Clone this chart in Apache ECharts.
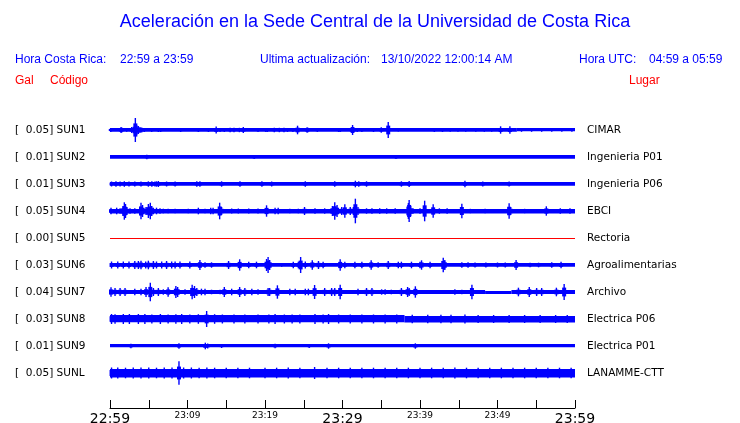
<!DOCTYPE html>
<html>
<head>
<meta charset="utf-8">
<script src="https://cdn.jsdelivr.net/npm/echarts@6/dist/echarts.min.js"></script>
<style>html,body{margin:0;padding:0;background:#fff}#c{width:740px;height:423px}</style>
</head>
<body>
<div id="c"></div>
<script>
// ---------------- DATA ----------------
const timeTickLabels = ['22:59', '23:09', '23:19', '23:29', '23:39', '23:49', '23:59'];
const stations = ['SUN1', 'SUN2', 'SUN3', 'SUN4', 'SUN5', 'SUN6', 'SUN7', 'SUN8', 'SUN9', 'SUNL'];
const peakGal = ['0.05', '0.01', '0.01', '0.05', '0.00', '0.03', '0.04', '0.03', '0.01', '0.05'];
const places = ['CIMAR', 'Ingenieria P01', 'Ingenieria P06', 'EBCI', 'Rectoria', 'Agroalimentarias', 'Archivo', 'Electrica P06', 'Electrica P01', 'LANAMME-CTT'];

// background noise level: [startMinute, endMinute, relative amplitude]
const sun1Base = [[0, 52.5, 1.9], [52.5, 60, 1.6]];
const sun2Base = [[0, 60, 1.9]];
const sun3Base = [[0, 60, 1.9]];
const sun4Base = [[0, 60, 2.3]];
const sun5Base = [[0, 60, 0]];
const sun6Base = [[0, 60, 1.9]];
const sun7Base = [[0, 48.4, 2.0], [48.4, 51.8, 1.5], [51.8, 60, 2.0]];
const sun8Base = [[0, 38, 3.6], [38, 60, 3.3]];
const sun9Base = [[0, 60, 1.6]];
const sunlBase = [[0, 60, 4.2]];

// peaks: [minute, relative amplitude]
const sun1Peaks = [[0.1,2],[1.4,2.7],[1.5,2.7],[2.15,1.8],[2.8,3],[3.0,3.3],[3.27,12],[3.48,4.5],[3.66,4],[3.87,3],[4.09,2.5],[4.43,2],[5.38,2],[6.24,2],[6.54,2],[9.12,2],[11.4,2],[12.7,2],[13.7,3.5],[14.2,2],[14.75,2],[15.5,2.2],[16.0,2.2],[16.7,2.2],[17.2,3],[19.1,2],[20.1,2],[20.3,2],[21.2,2.2],[21.85,2.2],[22.45,2.2],[22.9,2],[23.6,2],[24.2,4.3],[25.4,2.5],[25.5,2.5],[26.75,2],[29.5,2],[29.7,2],[31.2,3],[31.3,5],[31.4,3],[31.9,2],[32.5,2],[34.0,2],[35.0,2.7],[35.9,8],[37.2,1.5],[41.85,2],[42.9,2],[43.9,1.8],[44.9,1.8],[45.9,1.8],[47.2,1.8],[48.3,1.8],[49.25,1.8],[50.4,3.7],[51.6,3.7],[53.1,1.8],[54.4,1.8],[55.7,1.8],[57.0,1.8],[58.3,1.8],[59.6,1.8]];
const sun2Peaks = [[4.75,2.3],[18.6,2.1],[36.9,2.1]];
const sun3Peaks = [[0.2,2.5],[0.77,2.8],[1.3,2.5],[1.85,2.8],[2.45,2.5],[3.2,2.5],[4.0,2.5],[4.95,2.7],[5.4,2.7],[5.8,2.5],[6.0,2.7],[6.24,3],[7.3,2.5],[8.4,2.5],[11.2,2.7],[11.6,2.7],[14.4,2.7],[16.77,2.7],[19.6,2.8],[20.86,2.5],[25.2,2.8],[29.0,2.7],[31.66,3.3],[32.1,2.7],[33.1,2.7],[37.6,2.7],[38.6,3],[45.8,3.3],[48.1,2.5],[51.5,2.5]];
const sun4Peaks = [[0.13,3.3],[0.86,3.3],[1.3,2.7],[1.7,5],[1.85,8.7],[1.94,5],[2.0,7],[2.15,4],[2.58,2.7],[3.2,2.7],[4.0,8.3],[4.2,6],[4.65,4],[4.95,7],[5.2,8.3],[5.38,5],[5.6,3.3],[6.0,3.3],[6.45,2.7],[6.88,2.3],[7.5,2.3],[8.4,2.3],[10.1,2.3],[11.4,3.3],[12.26,2.3],[13.0,3.3],[13.3,3.3],[14.15,8.3],[14.4,4],[15.7,2.5],[16.56,2.5],[17.9,2.5],[19.1,2.5],[20.2,5.7],[21.3,3.3],[21.7,3.3],[23.2,2.3],[24.3,2.3],[25.1,4],[26.45,2.7],[27.7,2.7],[28.7,5],[29.0,8.7],[29.3,6],[29.9,4],[30.3,6.7],[31.0,4],[31.4,4],[31.66,12.3],[32.0,4],[33.1,2.7],[33.8,2.7],[34.8,2.7],[35.7,2.7],[36.8,2.7],[38.5,8],[38.6,11],[38.8,5],[39.1,2.7],[40.0,2.7],[40.6,10.3],[41.7,6.7],[42.5,2.7],[43.5,2.7],[45.4,7.3],[46.5,2.2],[48.4,2.3],[51.5,7.7],[51.7,4],[53.5,2.2],[56.3,4.7],[58.1,2.7],[59.35,2.7]];
const sun5Peaks = [];
const sun6Peaks = [[0.2,3.5],[1.0,3.5],[1.72,3.5],[2.45,3.5],[3.2,4],[3.66,4],[4.0,4.3],[4.6,3.5],[4.95,4.3],[5.6,4],[6.0,3.5],[6.67,3.5],[7.3,4],[7.96,3.5],[8.4,3.5],[9.03,3.5],[10.3,3.5],[11.6,5],[12.26,2.7],[13.1,2.7],[15.3,4],[16.73,5.7],[17.9,3.3],[18.9,3.3],[20.2,6],[20.4,8],[20.6,5],[22.15,1.8],[23.65,3.3],[24.3,3.3],[24.6,8],[25.2,3.5],[26.1,4.7],[26.9,4],[27.5,3.3],[29.7,5.7],[30.3,3.3],[31.6,3.3],[32.5,3.3],[33.7,4.7],[34.6,2.7],[35.9,4],[37.2,3.3],[37.6,3.3],[38.9,3.3],[40.0,3.3],[40.2,4.7],[41.3,3.3],[43.0,7.3],[43.2,5],[45.4,2.7],[46.2,2.7],[47.1,2.5],[48.5,2.5],[50.0,2.5],[51.0,2.5],[52.4,5],[54.2,2.3],[55.3,2.3],[57.0,2.7],[58.2,3.3]];
const sun7Peaks = [[0.13,4.7],[0.65,4],[1.3,4],[1.94,4],[3.2,3.3],[4.0,3.3],[4.65,5],[5.2,9.3],[5.6,4],[6.24,4],[6.88,2.7],[7.5,4.7],[8.5,6],[8.73,5],[9.68,2.7],[10.6,7.3],[10.9,6],[11.2,4],[11.8,3.3],[12.26,3.3],[13.1,2.3],[14.2,2.3],[14.75,5],[15.7,3.3],[16.73,5],[17.4,4],[18.3,3.3],[19.1,2.7],[20.4,4],[20.6,4],[21.6,6.7],[23.2,3.3],[23.9,3.3],[25.2,3.3],[25.6,3.3],[26.4,7],[27.7,4],[28.6,4],[29.0,4],[29.7,7.3],[32.0,3.3],[33.1,4],[33.8,4],[35.05,2.7],[35.5,2.7],[36.3,2.3],[37.6,4],[38.4,5],[38.6,4],[39.4,5.7],[44.5,2.7],[45.4,2.2],[46.7,7.3],[52.7,4.3],[54.1,5],[55.05,4],[55.7,4],[57.6,4.3],[58.6,8]];
const sun8Peaks = [[0.2,5],[0.65,4.8],[1.72,5],[2.5,5],[3.66,5],[4.5,5],[5.4,4.5],[6.5,5],[7.5,4.5],[8.5,4.8],[9.25,5],[10.3,4.5],[11.4,4.8],[12.47,8],[13.5,4.8],[14.5,4.5],[16.0,4.5],[17.4,4.5],[19.1,4.5],[20.5,4.5],[21.3,5],[22.5,4.5],[23.5,4.5],[24.5,4.5],[26.45,5],[27.5,4.5],[28.2,5],[29.5,4.5],[31.0,4.5],[32.5,4.5],[34.0,4.5],[35.5,4.5],[37.0,4.5],[39.0,4.3],[41.0,4.3],[42.7,4.3],[44.0,4.3],[45.8,4.5],[47.5,4],[49.5,4],[51.5,4],[53.5,4],[55.5,4],[57.5,4],[59.0,4]];
const sun9Peaks = [[2.7,2.3],[8.9,2.7],[12.3,3.3],[12.6,2.5],[14.4,2],[21.3,2.3],[25.7,2],[28.2,2.7],[39.4,2.7]];
const sunlPeaks = [[0.2,5.5],[1.0,5.5],[2.0,5.3],[3.0,5.5],[4.0,5.5],[5.0,5.5],[6.0,5.3],[7.0,5.5],[8.0,5.5],[8.9,11.7],[9.5,5.5],[10.5,5.5],[11.5,5.3],[12.5,5.5],[13.5,5.3],[15.0,5.3],[16.5,5.3],[18.0,5.3],[20.0,5.3],[21.5,5.3],[23.0,5.5],[24.5,5.3],[26.4,6],[28.0,5.3],[29.5,5.3],[31.0,5.3],[32.5,5.3],[34.0,5.3],[35.5,5.3],[37.0,5.3],[38.5,5.3],[40.0,5.3],[41.5,5.3],[43.0,5.3],[44.5,5.5],[46.0,5.3],[47.5,5.3],[49.0,5.3],[50.5,5.3],[52.0,5.3],[53.5,5.3],[55.0,5.3],[56.5,5.3],[58.0,5.3],[59.5,5.3]];

// ---------------- BUILD ----------------
const baseList = [sun1Base, sun2Base, sun3Base, sun4Base, sun5Base, sun6Base, sun7Base, sun8Base, sun9Base, sunlBase];
const peakList = [sun1Peaks, sun2Peaks, sun3Peaks, sun4Peaks, sun5Peaks, sun6Peaks, sun7Peaks, sun8Peaks, sun9Peaks, sunlPeaks];

const BLUE = '#0000ff', RED = '#ff0000';
const AMP_PER_SLOT = 27; // amplitude units per trace slot
const GRID = {left: 110, right: 165, top: 103, bottom: 15, containLabel: false, outerBoundsMode: 'none'};
const slotsInGrid = (423 - GRID.top - GRID.bottom) / 27;

const bandData = [];
baseList.forEach((segs, k) => segs.forEach(s => bandData.push([s[0], s[1], k, s[2]])));
const peakData = [];
peakList.forEach((pks, k) => pks.forEach(p => peakData.push([p[0], k, p[1]])));

const colorFor = k => (peakGal[k] === '0.00' ? RED : BLUE);

const chart = echarts.init(document.getElementById('c'), null, {renderer: 'canvas'});

const textFont = "'Liberation Sans', Arial, Helvetica, sans-serif";
const monoFont = "'DejaVu Sans', sans-serif";

function txt(x, y, s, color, size, align) {
  return {type: 'text', x: x, y: y, silent: true,
    style: {text: s, fill: color, font: size + 'px ' + textFont, textAlign: align || 'left', textVerticalAlign: 'middle'}};
}

chart.setOption({
  animation: false,
  backgroundColor: '#ffffff',
  grid: GRID,
  xAxis: {
    type: 'value', min: 0, max: 60, interval: 5,
    axisLine: {show: true, onZero: false, lineStyle: {color: '#000', width: 1}},
    axisTick: {show: true, inside: true, length: 8, lineStyle: {color: '#000'}},
    splitLine: {show: false},
    axisLabel: {
      margin: 2, showMinLabel: true, showMaxLabel: true,
      formatter: v => {
        if (v % 10 !== 0) return '';
        const i = v / 10;
        return (i % 3 === 0 ? '{big|' : '{small|') + timeTickLabels[i] + '}';
      },
      rich: {
        big: {fontSize: 14, fontFamily: monoFont, color: '#000', padding: [2, 0, 0, 0]},
        small: {fontSize: 9, fontFamily: monoFont, color: '#000', padding: [1, 0, 0, 0]}
      }
    }
  },
  yAxis: [{
    type: 'value', inverse: true, min: -1, max: -1 + slotsInGrid, interval: 1,
    axisLine: {show: false}, axisTick: {show: false}, splitLine: {show: false},
    axisLabel: {
      margin: 95, align: 'left', color: '#000', fontSize: 10.5, fontFamily: monoFont,
      formatter: v => (Number.isInteger(v) && v >= 0 && v < stations.length) ? '[  ' + peakGal[v] + '] ' + stations[v] : ''
    }
  }, {
    type: 'value', inverse: true, min: -1, max: -1 + slotsInGrid, interval: 1, position: 'right',
    axisLine: {show: false}, axisTick: {show: false}, splitLine: {show: false},
    axisLabel: {
      margin: 12, align: 'left', color: '#000', fontSize: 10.5, fontFamily: monoFont,
      formatter: v => (Number.isInteger(v) && v >= 0 && v < places.length) ? places[v] : ''
    }
  }],
  series: [{
    type: 'custom', xAxisIndex: 0, yAxisIndex: 0, silent: true, clip: false, z: 2,
    data: bandData,
    renderItem: (params, api) => {
      const k = api.value(2);
      const p0 = api.coord([api.value(0), k]);
      const p1 = api.coord([api.value(1), k]);
      const pxPerAmp = api.size([0, 1])[1] / AMP_PER_SLOT;
      const amp = api.value(3);
      const c = colorFor(k);
      const h = Math.max(1, 2 * amp * pxPerAmp);
      return {type: 'rect', shape: {x: p0[0], y: Math.round(p0[1] - h / 2), width: p1[0] - p0[0], height: h},
        style: {fill: c}};
    }
  }, {
    type: 'custom', xAxisIndex: 0, yAxisIndex: 0, silent: true, clip: false, z: 3,
    data: peakData,
    renderItem: (params, api) => {
      const k = api.value(1);
      const p = api.coord([api.value(0), k]);
      const pxPerAmp = api.size([0, 1])[1] / AMP_PER_SLOT;
      const h = 2 * api.value(2) * pxPerAmp;
      const hb = h * 0.55;
      const c = colorFor(k);
      return {type: 'group', children: [
        {type: 'rect', shape: {x: p[0] - 0.7, y: p[1] - h / 2, width: 1.4, height: h}, style: {fill: c}},
        {type: 'rect', shape: {x: p[0] - 2, y: p[1] - hb / 2, width: 4, height: hb}, style: {fill: c}}
      ]};
    }
  }],
  graphic: [
    txt(375, 22, 'Aceleración en la Sede Central de la Universidad de Costa Rica', BLUE, 18, 'center'),
    txt(15, 60, 'Hora Costa Rica:', BLUE, 12),
    txt(120, 60, '22:59 a 23:59', BLUE, 12),
    txt(260, 60, 'Ultima actualización:', BLUE, 12),
    txt(381, 60, '13/10/2022 12:00:14 AM', BLUE, 12),
    txt(579, 60, 'Hora UTC:', BLUE, 12),
    txt(649, 60, '04:59 a 05:59', BLUE, 12),
    txt(15, 81, 'Gal', RED, 12),
    txt(50, 81, 'Código', RED, 12),
    txt(629, 81, 'Lugar', RED, 12)
  ]
});
</script>
</body>
</html>
